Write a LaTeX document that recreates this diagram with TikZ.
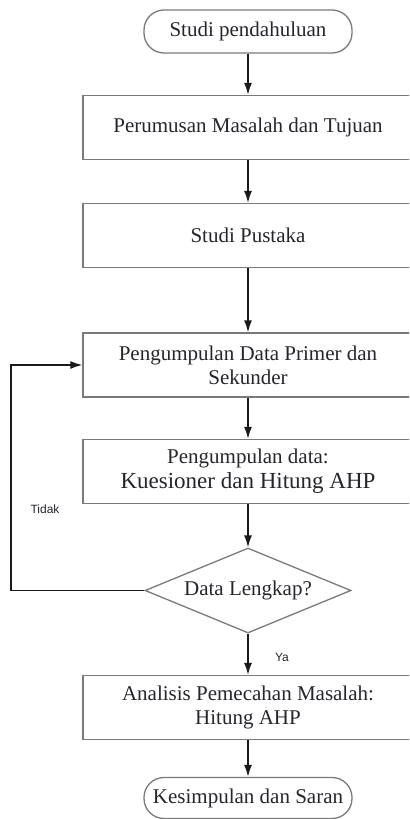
\documentclass[tikz,border=0pt]{standalone}
\usepackage{fontspec}
\setmainfont{Liberation Serif}
\newfontfamily\labfont{Liberation Sans}
\usetikzlibrary{shapes.geometric,arrows.meta}
\definecolor{boxline}{HTML}{7A7A7A}
\definecolor{txt}{HTML}{25252C}
\definecolor{conn}{HTML}{1A1A1A}
\begin{document}
\begin{tikzpicture}[x=1bp,y=-1bp,
  mainfont/.style={font=\fontsize{21bp}{24bp}\selectfont},
  box/.style={draw=boxline,line width=1.3bp,minimum width=330bp,minimum height=64bp,inner sep=0pt,align=center,mainfont,text=txt},
  term/.style={draw=boxline,line width=1.3bp,rectangle,rounded corners=20bp,minimum width=208bp,inner sep=0pt,align=center,mainfont,text=txt},
  decision/.style={draw=boxline,line width=1.3bp,diamond,aspect=2.42,minimum width=206bp,minimum height=85bp,inner sep=0pt,align=center,mainfont,text=txt},
  arr/.style={draw=conn,line width=1.4bp,-{Latex[length=12bp,width=8bp]}},
  lab/.style={font=\labfont\fontsize{12bp}{14bp}\selectfont,text=txt,inner sep=0pt}
]
\clip (0,0) rectangle (409,819);
\node[term,minimum height=43bp] (t1) at (248,31.5) {Studi pendahuluan};
\node[box] (b1) at (248,127.5) {Perumusan Masalah dan Tujuan};
\node[box] (b2) at (248,235.5) {Studi Pustaka};
\node[box] (b3) at (248,365) {Pengumpulan Data Primer dan\\Sekunder};
\node[box] (b4) at (248,471.5) {Pengumpulan data:\\[1bp]{\fontsize{23bp}{26bp}\selectfont Kuesioner dan Hitung AHP}};
\node[decision] (d) at (248,590.5) {Data Lengkap?};
\node[box] (b5) at (248,707.5) {Analisis Pemecahan Masalah:\\Hitung AHP};
\node[term,minimum height=41bp] (t2) at (248,798) {Kesimpulan dan Saran};
\coordinate (fb) at (11,590.5);
\node[lab] (tidak) at (45,509) {Tidak};
\node[lab] (ya) at (282,657) {Ya};
\draw[arr] (t1) -- (b1);
\draw[arr] (b1) -- (b2);
\draw[arr] (b2) -- (b3);
\draw[arr] (b3) -- (b4);
\draw[arr] (b4) -- (d);
\draw[arr] (d) -- (b5);
\draw[arr] (b5) -- (t2);
\draw[arr] (d.west) -- (fb) |- (b3.west);
\end{tikzpicture}
\end{document}
